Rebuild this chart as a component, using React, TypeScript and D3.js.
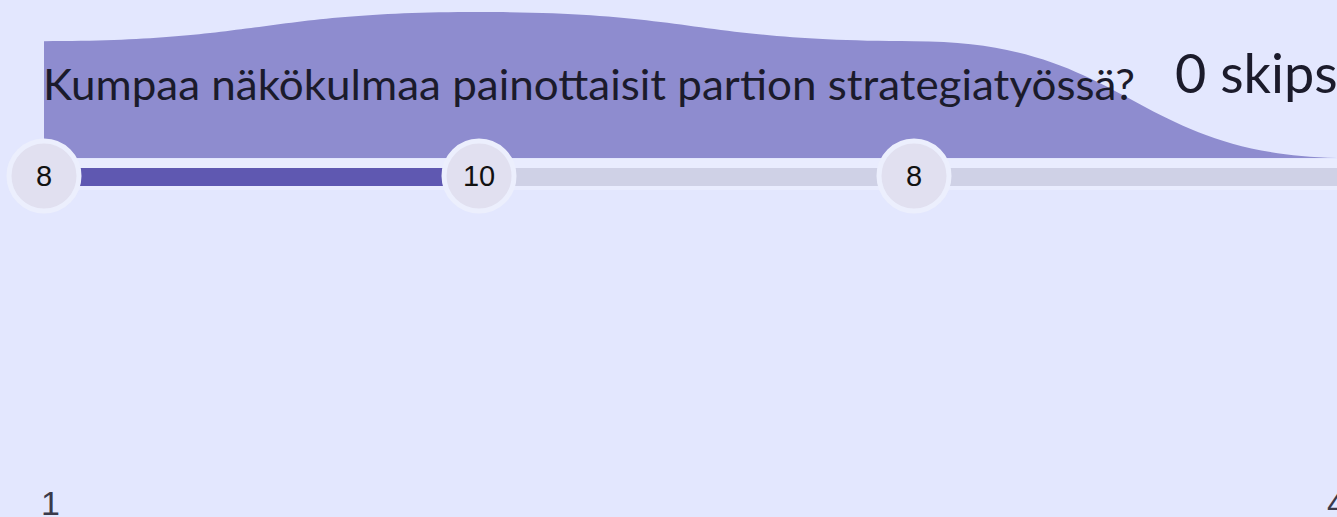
import React, { useRef, useEffect } from "react";
import { select, scaleLinear, area, curveBumpX } from "d3";

// scale steps and how many answered each
const steps = [1, 2, 3, 4];
const counts = [8, 10, 8, 0];
const endLabels = ["1", "4"];
const title = "Kumpaa näkökulmaa painottaisit partion strategiatyössä?";
const skips = "0 skips";

const W = 1337;
const H = 517;

const App = () => {
    const svgRef = useRef<SVGSVGElement>(null);

    useEffect(() => {
        const svg = select(svgRef.current);
        svg.selectAll("*").remove();

        const xScale = scaleLinear().domain([1, 4]).range([44, 1349]);
        const yScale = scaleLinear().domain([0, 10]).range([158, 12]);

        const total = counts.reduce((a, b) => a + b, 0);
        const mean = counts.reduce((s, c, i) => s + c * steps[i], 0) / total;

        svg.append("rect").attr("width", W).attr("height", H).attr("fill", "#e3e7fe");

        // density shape, flat tangent at every step
        const shape = area<number>()
            .x((d, i) => xScale(steps[i]))
            .y0(yScale(0))
            .y1(d => yScale(d))
            .curve(curveBumpX);

        svg.append("path")
            .datum(counts)
            .attr("d", shape)
            .attr("fill", "#8e8ccf");

        svg.append("text")
            .attr("x", 43)
            .attr("y", 100)
            .attr("font-family", "Lato, 'Noto Sans', sans-serif")
            .attr("font-size", 42)
            .attr("fill", "#1b1b2b")
            .attr("textLength", 1092)
            .attr("lengthAdjust", "spacingAndGlyphs")
            .text(title);

        svg.append("text")
            .attr("x", 1175)
            .attr("y", 93)
            .attr("font-family", "Lato, 'Noto Sans', sans-serif")
            .attr("font-size", 54)
            .attr("fill", "#1b1b2b")
            .text(skips);

        // track
        svg.append("rect")
            .attr("x", xScale(1)).attr("y", 159)
            .attr("width", xScale(4) - xScale(1)).attr("height", 31)
            .attr("fill", "#e9ecfe");
        svg.append("rect")
            .attr("x", xScale(1)).attr("y", 168)
            .attr("width", xScale(4) - xScale(1)).attr("height", 18)
            .attr("fill", "#cfd1e6");
        svg.append("rect")
            .attr("x", xScale(1)).attr("y", 168)
            .attr("width", xScale(mean) - xScale(1)).attr("height", 18)
            .attr("fill", "#5f58b1");

        // a count bubble for each step that got answers
        const dots = svg.selectAll(".dot")
            .data(counts.map((c, i) => ({ c, step: steps[i] })).filter(d => d.c > 0))
            .join("g")
            .attr("class", "dot")
            .attr("transform", d => `translate(${xScale(d.step)},176)`);

        dots.append("circle")
            .attr("r", 35)
            .attr("fill", "#e1e0f0")
            .attr("stroke", "#eceffd")
            .attr("stroke-width", 5);

        dots.append("text")
            .attr("text-anchor", "middle")
            .attr("dy", "0.36em")
            .attr("font-family", "'Liberation Sans', Arial, sans-serif")
            .attr("font-size", 29)
            .attr("fill", "#111")
            .text(d => d.c);

        // end labels of the scale
        svg.selectAll(".end-label")
            .data(endLabels)
            .join("text")
            .attr("class", "end-label")
            .attr("x", (d, i) => (i === 0 ? 41 : 1327))
            .attr("y", 515)
            .attr("font-family", "'Liberation Sans', Arial, sans-serif")
            .attr("font-size", 34)
            .attr("fill", "#3a3a4a")
            .text(d => d);
    }, []);

    return (
        <div style={{ position: "fixed", left: 0, top: 0, width: W, height: H, overflow: "hidden" }}>
            <svg ref={svgRef} width={W} height={H} style={{ display: "block" }} />
        </div>
    );
};

export default App;
